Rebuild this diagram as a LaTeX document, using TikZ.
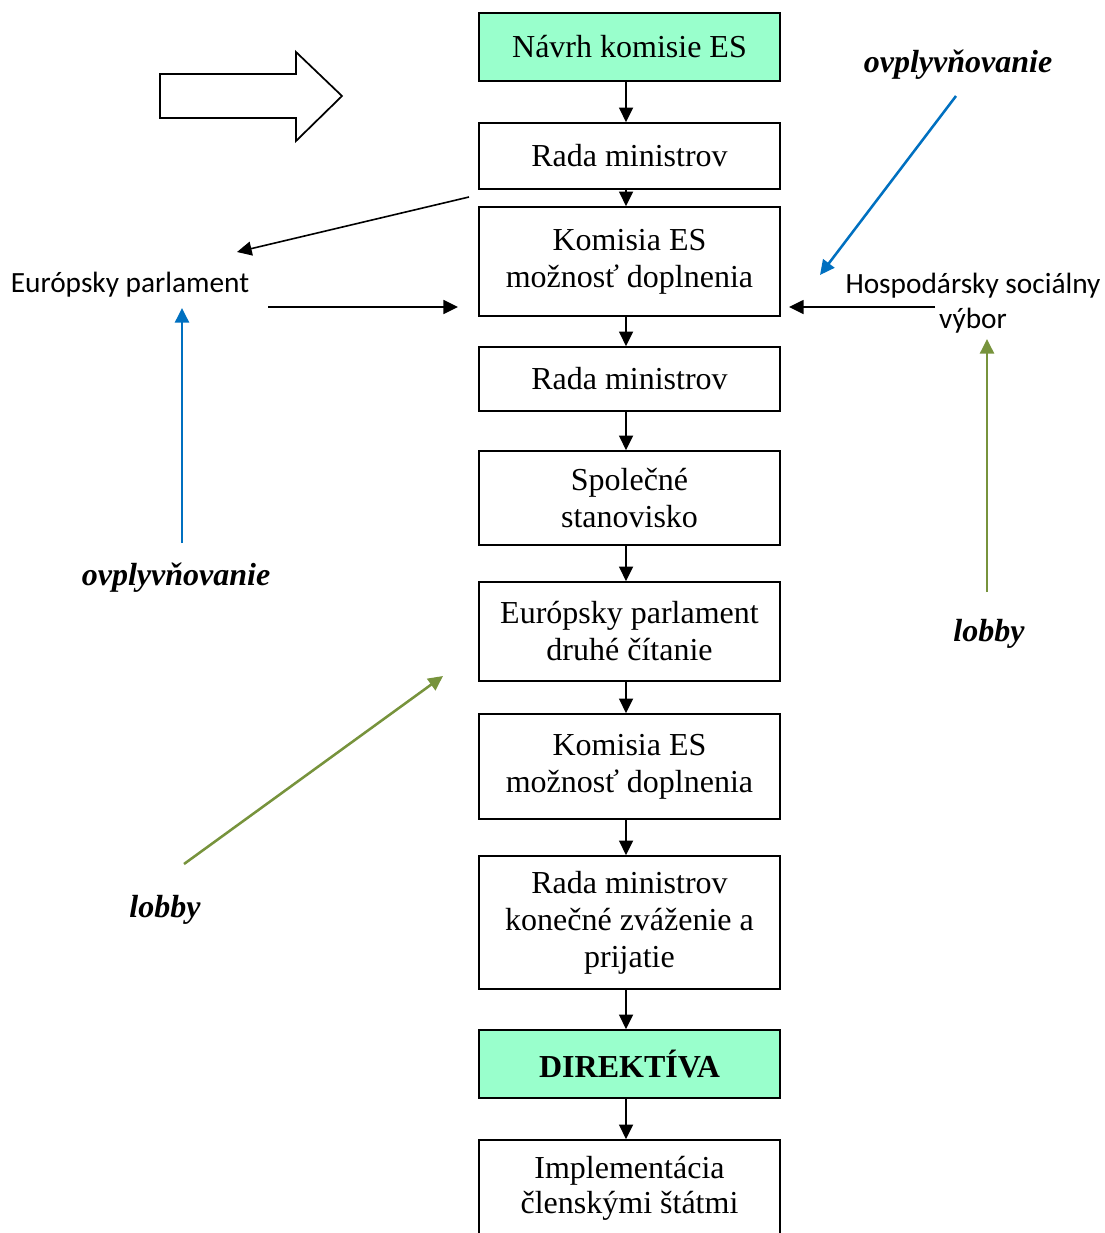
\documentclass[tikz,border=0pt]{standalone}
\usepackage{fontspec}
\setmainfont{Liberation Serif}
\newfontfamily\sansf{Carlito}
\usetikzlibrary{arrows.meta}
\definecolor{mint}{HTML}{99FFCC}
\definecolor{myblue}{HTML}{0070C0}
\definecolor{mygreen}{HTML}{77933C}
\begin{document}
\begin{tikzpicture}[x=0.75pt,y=-0.75pt,
  box/.style={draw, line width=1.2pt, minimum width=225.75pt, align=center, inner sep=0pt,
    font=\fontsize{24}{27.75}\selectfont},
  greenbox/.style={box, fill=mint},
  side/.style={align=center, inner sep=0pt, font=\sansf\fontsize{22}{26.25}\selectfont},
  lbl/.style={inner sep=0pt, font=\fontsize{24}{28}\selectfont\bfseries\itshape},
  arr/.style={line width=1.2pt, -{Triangle[length=11pt,width=10.5pt]}},
  barr/.style={arr, color=myblue, line width=1.9pt},
  garr/.style={arr, color=mygreen, line width=1.9pt}]
\useasboundingbox (0,0) rectangle (1105,1233);

% main column
\node[greenbox, minimum height=51pt] (b1) at (629.5,47) {Návrh komisie ES};
\node[box, minimum height=49.5pt] (b2) at (629.5,156) {Rada ministrov};
\node[box, minimum height=81.75pt] (b3) at (629.5,261.5) {Komisia ES\\možnosť doplnenia};
\node[box, minimum height=48pt] (b4) at (629.5,379) {Rada ministrov};
\node[box, minimum height=70.5pt] (b5) at (629.5,498) {Společné\\stanovisko};
\node[box, minimum height=74.25pt] (b6) at (629.5,631.5) {Európsky parlament\\druhé čítanie};
\node[box, minimum height=78.75pt] (b7) at (629.5,766.5) {Komisia ES\\možnosť doplnenia};
\node[box, minimum height=99.75pt] (b8) at (629.5,922.5) {Rada ministrov\\konečné zváženie a\\prijatie};
\node[greenbox, minimum height=51pt, font=\fontsize{24}{27.75}\selectfont\bfseries] (b9) at (629.5,1064) {DIREKTÍVA};
\node[box, minimum height=72pt, font=\fontsize{24}{26.5}\selectfont] (b10) at (629.5,1188) {Implementácia\\členskými štátmi};

\foreach \a/\b in {b1/b2,b2/b3,b3/b4,b4/b5,b5/b6,b6/b7,b7/b8,b8/b9,b9/b10}
  \draw[arr] ([xshift=-2.6pt]\a.south) -- ([xshift=-2.6pt]\b.north);

% side texts
\node[side] (ep) at (130,285) {Európsky parlament};
\node[side] (hsv) at (973,303) {Hospodársky sociálny\\výbor};
\node[lbl] (ov1) at (958,65) {ovplyvňovanie};
\node[lbl] (ov2) at (176,578) {ovplyvňovanie};
\node[lbl] (lob1) at (989,634) {lobby};
\node[lbl] (lob2) at (165,910) {lobby};

% connector end points
\coordinate (c1) at (469,197);
\coordinate (c2) at (237,252);
\coordinate (c3) at (268,307);
\coordinate (c4) at (458,307);
\coordinate (c5) at (935,307);
\coordinate (c6) at (789,307);
\coordinate (c7) at (956,96);
\coordinate (c8) at (820,275);
\coordinate (c9) at (182,543);
\coordinate (c10) at (182,308);
\coordinate (c11) at (987,592);
\coordinate (c12) at (987,339);
\coordinate (c13) at (184,864);
\coordinate (c14) at (443,676);

\draw[arr] (c1) -- (c2);
\draw[arr] (c3) -- (c4);
\draw[arr] (c5) -- (c6);
\draw[barr] (c7) -- (c8);
\draw[barr] (c9) -- (c10);
\draw[garr] (c11) -- (c12);
\draw[garr] (c13) -- (c14);

% big outline arrow
\draw[line width=1.3pt, line join=miter] (160,74) -- (296,74) -- (296,52) -- (342,96) -- (296,141) -- (296,118) -- (160,118) -- cycle;
\end{tikzpicture}
\end{document}
